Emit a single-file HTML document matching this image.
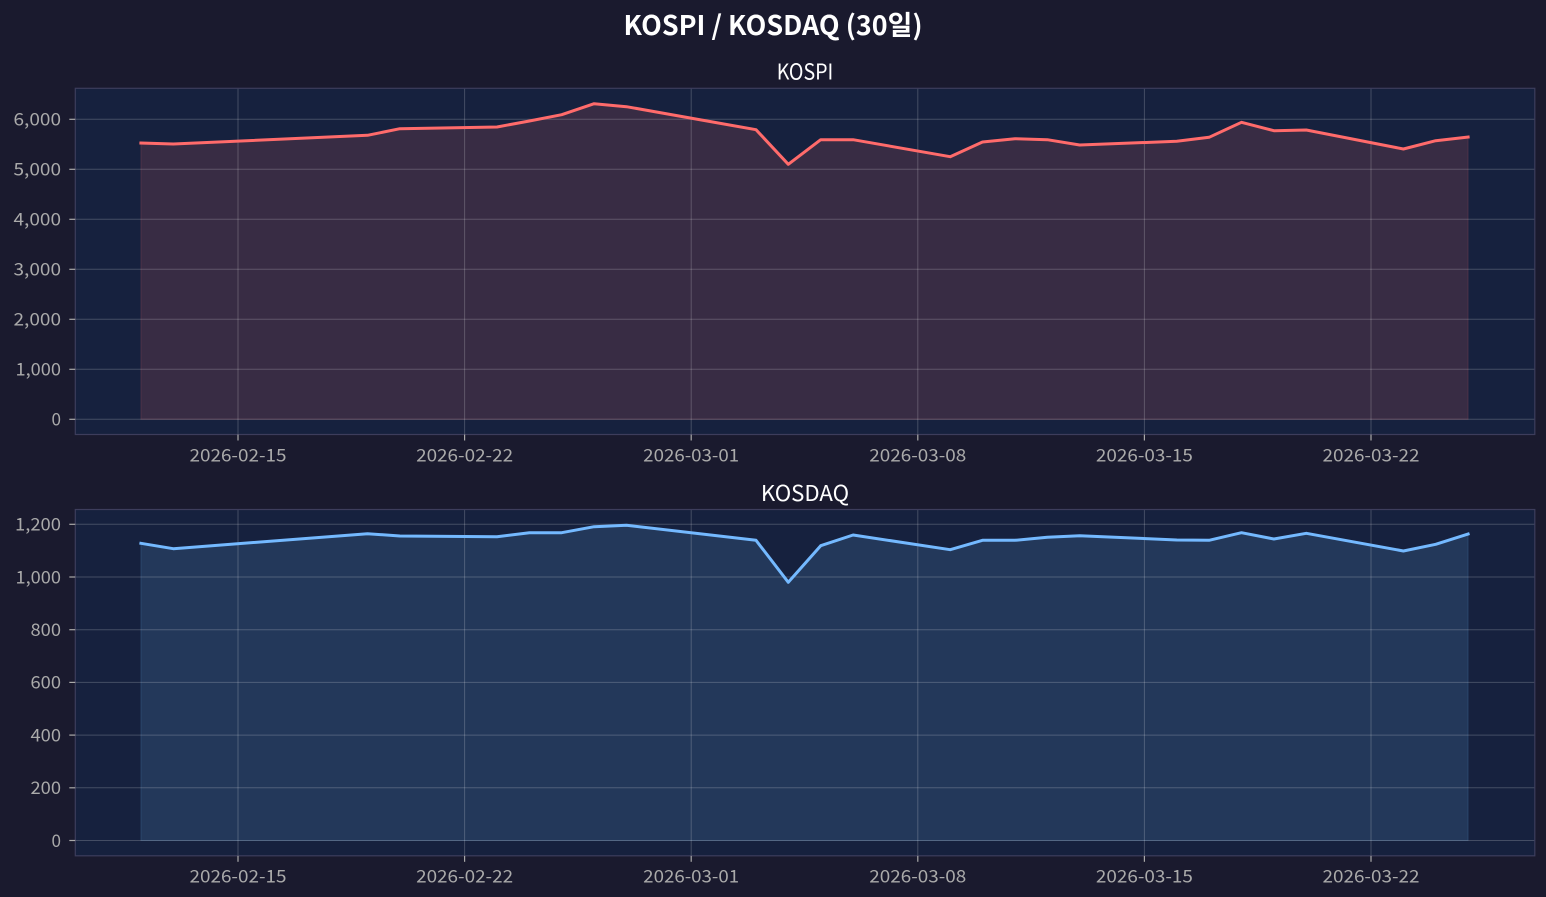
<!DOCTYPE html>
<html>
<head>
<meta charset="utf-8">
<style>
html,body{margin:0;padding:0;background:#1a1a2e;}
svg{display:block;}
text{font-family:"Noto Sans CJK KR","Liberation Sans",sans-serif;}
</style>
</head>
<body>
<svg width="1546" height="897" viewBox="0 0 1546 897" xmlns="http://www.w3.org/2000/svg">
<rect x="0" y="0" width="1546" height="897" fill="#1a1a2e"/>

<!-- Main title -->
<text x="773" y="35" text-anchor="middle" font-size="27" font-weight="bold" fill="#ffffff" textLength="299" lengthAdjust="spacingAndGlyphs">KOSPI / KOSDAQ (30일)</text>

<!-- ============ TOP: KOSPI ============ -->
<text x="805" y="79.3" text-anchor="middle" font-size="22" fill="#ffffff" textLength="56.6" lengthAdjust="spacingAndGlyphs">KOSPI</text>
<rect x="75.3" y="88.3" width="1459.5" height="346.2" fill="#16213e"/>
<!-- fill -->
<polygon points="140.9,419.3 140.9,143 173.3,144 367.5,135.3 399.9,128.7 497.0,127 529.4,121 561.7,114.7 594.1,103.7 626.5,106.7 756.0,129.7 788.3,164.3 820.7,139.7 853.1,139.7 950.2,156.7 982.5,142 1014.9,138.7 1047.3,139.7 1079.7,145 1176.8,141.3 1209.1,137.3 1241.5,122.3 1273.9,130.7 1306.3,130 1403.4,149 1435.7,140.7 1468.1,137 1468.1,419.3" fill="rgba(255,107,107,0.15)" stroke="rgba(255,107,107,0.15)" stroke-width="1"/>
<!-- grid -->
<g stroke="rgba(255,255,255,0.2)" stroke-width="1">
<line x1="75.3" x2="1534.8" y1="119.3" y2="119.3"/>
<line x1="75.3" x2="1534.8" y1="169.3" y2="169.3"/>
<line x1="75.3" x2="1534.8" y1="219.3" y2="219.3"/>
<line x1="75.3" x2="1534.8" y1="269.3" y2="269.3"/>
<line x1="75.3" x2="1534.8" y1="319.3" y2="319.3"/>
<line x1="75.3" x2="1534.8" y1="369.3" y2="369.3"/>
<line x1="75.3" x2="1534.8" y1="419.3" y2="419.3"/>
<line x1="238.0" x2="238.0" y1="88.3" y2="434.5"/>
<line x1="464.6" x2="464.6" y1="88.3" y2="434.5"/>
<line x1="691.2" x2="691.2" y1="88.3" y2="434.5"/>
<line x1="917.8" x2="917.8" y1="88.3" y2="434.5"/>
<line x1="1144.4" x2="1144.4" y1="88.3" y2="434.5"/>
<line x1="1371.0" x2="1371.0" y1="88.3" y2="434.5"/>
</g>
<polyline points="140.9,143 173.3,144 367.5,135.3 399.9,128.7 497.0,127 529.4,121 561.7,114.7 594.1,103.7 626.5,106.7 756.0,129.7 788.3,164.3 820.7,139.7 853.1,139.7 950.2,156.7 982.5,142 1014.9,138.7 1047.3,139.7 1079.7,145 1176.8,141.3 1209.1,137.3 1241.5,122.3 1273.9,130.7 1306.3,130 1403.4,149 1435.7,140.7 1468.1,137" fill="none" stroke="#ff6b6b" stroke-width="3" stroke-linejoin="round" stroke-linecap="square"/>
<rect x="75.3" y="88.3" width="1459.5" height="346.2" fill="none" stroke="#3d3d5c" stroke-width="1.2"/>
<!-- y ticks -->
<g stroke="#aaaaaa" stroke-width="1.2">
<line x1="69.3" x2="75.3" y1="119.3" y2="119.3"/>
<line x1="69.3" x2="75.3" y1="169.3" y2="169.3"/>
<line x1="69.3" x2="75.3" y1="219.3" y2="219.3"/>
<line x1="69.3" x2="75.3" y1="269.3" y2="269.3"/>
<line x1="69.3" x2="75.3" y1="319.3" y2="319.3"/>
<line x1="69.3" x2="75.3" y1="369.3" y2="369.3"/>
<line x1="69.3" x2="75.3" y1="419.3" y2="419.3"/>
<line x1="238.0" x2="238.0" y1="434.5" y2="440.5"/>
<line x1="464.6" x2="464.6" y1="434.5" y2="440.5"/>
<line x1="691.2" x2="691.2" y1="434.5" y2="440.5"/>
<line x1="917.8" x2="917.8" y1="434.5" y2="440.5"/>
<line x1="1144.4" x2="1144.4" y1="434.5" y2="440.5"/>
<line x1="1371.0" x2="1371.0" y1="434.5" y2="440.5"/>
</g>
<g fill="#aaaaaa" font-size="17.5" text-anchor="end">
<text x="61" y="125.6" textLength="47.5" lengthAdjust="spacingAndGlyphs">6,000</text>
<text x="61" y="175.6" textLength="47.5" lengthAdjust="spacingAndGlyphs">5,000</text>
<text x="61" y="225.6" textLength="47.5" lengthAdjust="spacingAndGlyphs">4,000</text>
<text x="61" y="275.6" textLength="47.5" lengthAdjust="spacingAndGlyphs">3,000</text>
<text x="61" y="325.6" textLength="47.5" lengthAdjust="spacingAndGlyphs">2,000</text>
<text x="61" y="375.6" textLength="45.5" lengthAdjust="spacingAndGlyphs">1,000</text>
<text x="61" y="425.6" textLength="9.5" lengthAdjust="spacingAndGlyphs">0</text>
</g>
<g fill="#aaaaaa" font-size="17.5" text-anchor="middle">
<text x="238.0" y="461.3" textLength="97" lengthAdjust="spacingAndGlyphs">2026-02-15</text>
<text x="464.6" y="461.3" textLength="97" lengthAdjust="spacingAndGlyphs">2026-02-22</text>
<text x="691.2" y="461.3" textLength="96" lengthAdjust="spacingAndGlyphs">2026-03-01</text>
<text x="917.8" y="461.3" textLength="97" lengthAdjust="spacingAndGlyphs">2026-03-08</text>
<text x="1144.4" y="461.3" textLength="97" lengthAdjust="spacingAndGlyphs">2026-03-15</text>
<text x="1371.0" y="461.3" textLength="97" lengthAdjust="spacingAndGlyphs">2026-03-22</text>
</g>

<!-- ============ BOTTOM: KOSDAQ ============ -->
<text x="805" y="501" text-anchor="middle" font-size="22" fill="#ffffff" textLength="88.3" lengthAdjust="spacingAndGlyphs">KOSDAQ</text>
<rect x="75.3" y="509.5" width="1459.5" height="346.3" fill="#16213e"/>
<polygon points="140.9,840.5 140.9,543.3 173.3,548.7 367.5,533.7 399.9,536 497.0,536.7 529.4,532.7 561.7,532.7 594.1,526.7 626.5,525.3 756.0,540.3 788.3,582.3 820.7,545.7 853.1,535 950.2,549.7 982.5,540.3 1014.9,540.3 1047.3,537.3 1079.7,535.7 1176.8,540 1209.1,540.3 1241.5,532.7 1273.9,539 1306.3,533.3 1403.4,551 1435.7,544.3 1468.1,534 1468.1,840.5" fill="rgba(116,185,255,0.15)" stroke="rgba(116,185,255,0.15)" stroke-width="1"/>
<g stroke="rgba(255,255,255,0.2)" stroke-width="1">
<line x1="75.3" x2="1534.8" y1="524.3" y2="524.3"/>
<line x1="75.3" x2="1534.8" y1="577.0" y2="577.0"/>
<line x1="75.3" x2="1534.8" y1="629.7" y2="629.7"/>
<line x1="75.3" x2="1534.8" y1="682.4" y2="682.4"/>
<line x1="75.3" x2="1534.8" y1="735.1" y2="735.1"/>
<line x1="75.3" x2="1534.8" y1="787.8" y2="787.8"/>
<line x1="75.3" x2="1534.8" y1="840.5" y2="840.5"/>
<line x1="238.0" x2="238.0" y1="509.5" y2="855.8"/>
<line x1="464.6" x2="464.6" y1="509.5" y2="855.8"/>
<line x1="691.2" x2="691.2" y1="509.5" y2="855.8"/>
<line x1="917.8" x2="917.8" y1="509.5" y2="855.8"/>
<line x1="1144.4" x2="1144.4" y1="509.5" y2="855.8"/>
<line x1="1371.0" x2="1371.0" y1="509.5" y2="855.8"/>
</g>
<polyline points="140.9,543.3 173.3,548.7 367.5,533.7 399.9,536 497.0,536.7 529.4,532.7 561.7,532.7 594.1,526.7 626.5,525.3 756.0,540.3 788.3,582.3 820.7,545.7 853.1,535 950.2,549.7 982.5,540.3 1014.9,540.3 1047.3,537.3 1079.7,535.7 1176.8,540 1209.1,540.3 1241.5,532.7 1273.9,539 1306.3,533.3 1403.4,551 1435.7,544.3 1468.1,534" fill="none" stroke="#74b9ff" stroke-width="3" stroke-linejoin="round" stroke-linecap="square"/>
<rect x="75.3" y="509.5" width="1459.5" height="346.3" fill="none" stroke="#3d3d5c" stroke-width="1.2"/>
<g stroke="#aaaaaa" stroke-width="1.2">
<line x1="69.3" x2="75.3" y1="524.3" y2="524.3"/>
<line x1="69.3" x2="75.3" y1="577.0" y2="577.0"/>
<line x1="69.3" x2="75.3" y1="629.7" y2="629.7"/>
<line x1="69.3" x2="75.3" y1="682.4" y2="682.4"/>
<line x1="69.3" x2="75.3" y1="735.1" y2="735.1"/>
<line x1="69.3" x2="75.3" y1="787.8" y2="787.8"/>
<line x1="69.3" x2="75.3" y1="840.5" y2="840.5"/>
<line x1="238.0" x2="238.0" y1="855.8" y2="861.8"/>
<line x1="464.6" x2="464.6" y1="855.8" y2="861.8"/>
<line x1="691.2" x2="691.2" y1="855.8" y2="861.8"/>
<line x1="917.8" x2="917.8" y1="855.8" y2="861.8"/>
<line x1="1144.4" x2="1144.4" y1="855.8" y2="861.8"/>
<line x1="1371.0" x2="1371.0" y1="855.8" y2="861.8"/>
</g>
<g fill="#aaaaaa" font-size="17.5" text-anchor="end">
<text x="61" y="530.6" textLength="46" lengthAdjust="spacingAndGlyphs">1,200</text>
<text x="61" y="583.3" textLength="45.5" lengthAdjust="spacingAndGlyphs">1,000</text>
<text x="61" y="636.0" textLength="30.5" lengthAdjust="spacingAndGlyphs">800</text>
<text x="61" y="688.7" textLength="30.5" lengthAdjust="spacingAndGlyphs">600</text>
<text x="61" y="741.4" textLength="30.5" lengthAdjust="spacingAndGlyphs">400</text>
<text x="61" y="794.1" textLength="30.5" lengthAdjust="spacingAndGlyphs">200</text>
<text x="61" y="846.8" textLength="9.5" lengthAdjust="spacingAndGlyphs">0</text>
</g>
<g fill="#aaaaaa" font-size="17.5" text-anchor="middle">
<text x="238.0" y="882.3" textLength="97" lengthAdjust="spacingAndGlyphs">2026-02-15</text>
<text x="464.6" y="882.3" textLength="97" lengthAdjust="spacingAndGlyphs">2026-02-22</text>
<text x="691.2" y="882.3" textLength="96" lengthAdjust="spacingAndGlyphs">2026-03-01</text>
<text x="917.8" y="882.3" textLength="97" lengthAdjust="spacingAndGlyphs">2026-03-08</text>
<text x="1144.4" y="882.3" textLength="97" lengthAdjust="spacingAndGlyphs">2026-03-15</text>
<text x="1371.0" y="882.3" textLength="97" lengthAdjust="spacingAndGlyphs">2026-03-22</text>
</g>
</svg>
</body>
</html>
